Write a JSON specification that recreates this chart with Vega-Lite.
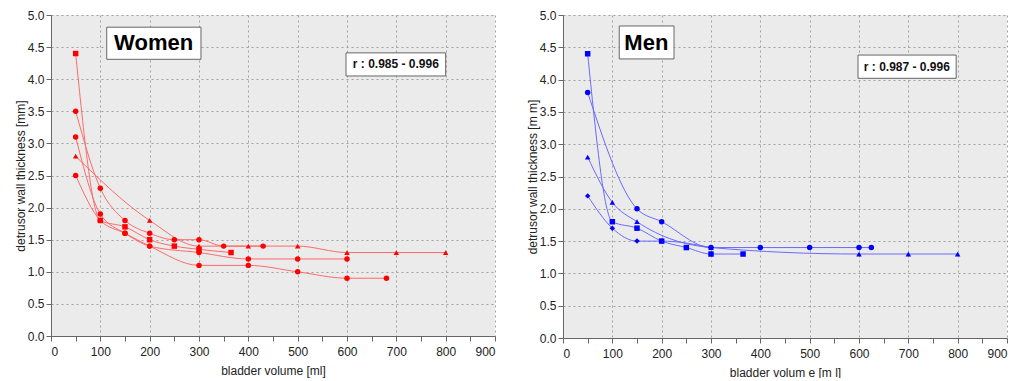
{
  "$schema": "https://vega.github.io/schema/vega-lite/v6.json",
  "padding": {"left": 14, "top": 9, "right": 5, "bottom": 0},
  "background": "white",
  "spacing": 30,
  "resolve": {"scale": {"shape": "independent"}},
  "config": {
    "font": "Liberation Sans",
    "view": {"stroke": null, "fill": "#ebebeb"},
    "axis": {
      "labelFont": "Liberation Sans", "labelFontSize": 12, "labelColor": "#222",
      "titleFont": "Liberation Sans", "titleFontSize": 12, "titleFontWeight": "normal", "titleColor": "#222",
      "domainColor": "#666", "tickColor": "#666", "gridColor": "#a0a0a0", "gridDash": [2, 3],
      "tickSize": 5, "labelOverlap": false
    },
    "axisX": {"labelPadding": 5, "titlePadding": 8},
    "axisY": {"labelPadding": 2, "titlePadding": 0}
  },
  "datasets": {
    "women": [
      {"series": "W1", "x": 50, "y": 4.4}, {"series": "W1", "x": 100, "y": 1.8}, {"series": "W1", "x": 150, "y": 1.7}, {"series": "W1", "x": 200, "y": 1.5}, {"series": "W1", "x": 250, "y": 1.4}, {"series": "W1", "x": 300, "y": 1.35}, {"series": "W1", "x": 365, "y": 1.3},
      {"series": "W2", "x": 50, "y": 3.5}, {"series": "W2", "x": 100, "y": 2.3}, {"series": "W2", "x": 150, "y": 1.8}, {"series": "W2", "x": 200, "y": 1.6}, {"series": "W2", "x": 250, "y": 1.5}, {"series": "W2", "x": 300, "y": 1.5}, {"series": "W2", "x": 350, "y": 1.4}, {"series": "W2", "x": 430, "y": 1.4},
      {"series": "W3", "x": 50, "y": 3.1}, {"series": "W3", "x": 100, "y": 1.9}, {"series": "W3", "x": 150, "y": 1.6}, {"series": "W3", "x": 200, "y": 1.4}, {"series": "W3", "x": 300, "y": 1.3}, {"series": "W3", "x": 400, "y": 1.2}, {"series": "W3", "x": 500, "y": 1.2}, {"series": "W3", "x": 600, "y": 1.2},
      {"series": "W4", "x": 50, "y": 2.8}, {"series": "W4", "x": 200, "y": 1.8}, {"series": "W4", "x": 300, "y": 1.4}, {"series": "W4", "x": 400, "y": 1.4}, {"series": "W4", "x": 500, "y": 1.4}, {"series": "W4", "x": 600, "y": 1.3}, {"series": "W4", "x": 700, "y": 1.3}, {"series": "W4", "x": 800, "y": 1.3},
      {"series": "W5", "x": 50, "y": 2.5}, {"series": "W5", "x": 100, "y": 1.8}, {"series": "W5", "x": 150, "y": 1.6}, {"series": "W5", "x": 200, "y": 1.4}, {"series": "W5", "x": 300, "y": 1.1}, {"series": "W5", "x": 400, "y": 1.1}, {"series": "W5", "x": 500, "y": 1.0}, {"series": "W5", "x": 600, "y": 0.9}, {"series": "W5", "x": 680, "y": 0.9}
    ],
    "men": [
      {"series": "M1", "x": 50, "y": 4.4}, {"series": "M1", "x": 100, "y": 1.8}, {"series": "M1", "x": 150, "y": 1.7}, {"series": "M1", "x": 200, "y": 1.5}, {"series": "M1", "x": 250, "y": 1.4}, {"series": "M1", "x": 300, "y": 1.3}, {"series": "M1", "x": 365, "y": 1.3},
      {"series": "M2", "x": 50, "y": 3.8}, {"series": "M2", "x": 150, "y": 2.0}, {"series": "M2", "x": 200, "y": 1.8}, {"series": "M2", "x": 300, "y": 1.4}, {"series": "M2", "x": 400, "y": 1.4}, {"series": "M2", "x": 500, "y": 1.4}, {"series": "M2", "x": 600, "y": 1.4}, {"series": "M2", "x": 625, "y": 1.4},
      {"series": "M3", "x": 50, "y": 2.8}, {"series": "M3", "x": 100, "y": 2.1}, {"series": "M3", "x": 150, "y": 1.8}, {"series": "M3", "x": 300, "y": 1.4}, {"series": "M3", "x": 600, "y": 1.3}, {"series": "M3", "x": 700, "y": 1.3}, {"series": "M3", "x": 800, "y": 1.3},
      {"series": "M4", "x": 50, "y": 2.2}, {"series": "M4", "x": 100, "y": 1.7}, {"series": "M4", "x": 150, "y": 1.5}, {"series": "M4", "x": 200, "y": 1.5}, {"series": "M4", "x": 300, "y": 1.4}
    ]
  },
  "hconcat": [
    {
      "width": 444, "height": 321,
      "layer": [
        {"data": {"name": "women"},
          "mark": {"type": "line", "interpolate": "monotone", "color": "#ff6a6a", "strokeWidth": 1},
          "encoding": {
            "x": {"field": "x", "type": "quantitative", "scale": {"domain": [0, 900], "nice": false},
              "axis": {"values": [0,50,100,150,200,250,300,350,400,450,500,550,600,650,700,750,800,850,900],
                "labelExpr": "datum.value % 100 === 0 ? datum.label : ''",
                "gridOpacity": {"condition": {"test": "datum.value % 100 === 0", "value": 1}, "value": 0},
                "title": "bladder volume [ml]"}},
            "y": {"field": "y", "type": "quantitative", "scale": {"domain": [0, 5], "nice": false},
              "axis": {"values": [0,0.5,1,1.5,2,2.5,3,3.5,4,4.5,5], "format": ".1f", "title": "detrusor wall thickness [mm]"}},
            "detail": {"field": "series"}}},
        {"data": {"name": "women"},
          "mark": {"type": "point", "filled": true, "color": "#ff0000", "opacity": 1, "size": 30},
          "encoding": {
            "x": {"field": "x", "type": "quantitative",
              "axis": {"values": [0,50,100,150,200,250,300,350,400,450,500,550,600,650,700,750,800,850,900],
                "labelExpr": "datum.value % 100 === 0 ? datum.label : ''",
                "gridOpacity": {"condition": {"test": "datum.value % 100 === 0", "value": 1}, "value": 0},
                "title": "bladder volume [ml]"}},
            "y": {"field": "y", "type": "quantitative",
              "axis": {"values": [0,0.5,1,1.5,2,2.5,3,3.5,4,4.5,5], "format": ".1f", "title": "detrusor wall thickness [mm]"}},
            "shape": {"field": "series", "scale": {"domain": ["W1","W2","W3","W4","W5"], "range": ["square","circle","circle","triangle-up","circle"]}, "legend": null}}},
        {"data": {"values": [{}]}, "mark": {"type": "rect", "fill": "white", "stroke": "#666", "strokeWidth": 1},
          "encoding": {
            "x": {"datum": 113, "axis": {"values": [0,50,100,150,200,250,300,350,400,450,500,550,600,650,700,750,800,850,900],
                "labelExpr": "datum.value % 100 === 0 ? datum.label : ''",
                "gridOpacity": {"condition": {"test": "datum.value % 100 === 0", "value": 1}, "value": 0},
                "title": "bladder volume [ml]"}},
            "x2": {"datum": 304},
            "y": {"datum": 4.81, "axis": {"values": [0,0.5,1,1.5,2,2.5,3,3.5,4,4.5,5], "format": ".1f", "title": "detrusor wall thickness [mm]"}},
            "y2": {"datum": 4.31}}},
        {"data": {"values": [{}]}, "mark": {"type": "text", "text": "Women", "font": "Liberation Sans", "fontWeight": "bold", "fontSize": 22, "color": "black", "align": "center", "baseline": "middle"},
          "encoding": {
            "x": {"datum": 208, "axis": {"values": [0,50,100,150,200,250,300,350,400,450,500,550,600,650,700,750,800,850,900],
                "labelExpr": "datum.value % 100 === 0 ? datum.label : ''",
                "gridOpacity": {"condition": {"test": "datum.value % 100 === 0", "value": 1}, "value": 0},
                "title": "bladder volume [ml]"}},
            "y": {"datum": 4.56, "axis": {"values": [0,0.5,1,1.5,2,2.5,3,3.5,4,4.5,5], "format": ".1f", "title": "detrusor wall thickness [mm]"}}}},
        {"data": {"values": [{}]}, "mark": {"type": "rect", "fill": "white", "stroke": "#666", "strokeWidth": 1},
          "encoding": {
            "x": {"datum": 598, "axis": {"values": [0,50,100,150,200,250,300,350,400,450,500,550,600,650,700,750,800,850,900],
                "labelExpr": "datum.value % 100 === 0 ? datum.label : ''",
                "gridOpacity": {"condition": {"test": "datum.value % 100 === 0", "value": 1}, "value": 0},
                "title": "bladder volume [ml]"}},
            "x2": {"datum": 800},
            "y": {"datum": 4.41, "axis": {"values": [0,0.5,1,1.5,2,2.5,3,3.5,4,4.5,5], "format": ".1f", "title": "detrusor wall thickness [mm]"}},
            "y2": {"datum": 4.05}}},
        {"data": {"values": [{}]}, "mark": {"type": "text", "text": "r : 0.985 - 0.996", "font": "Liberation Sans", "fontWeight": "bold", "fontSize": 12, "color": "#111", "align": "center", "baseline": "middle"},
          "encoding": {
            "x": {"datum": 699, "axis": {"values": [0,50,100,150,200,250,300,350,400,450,500,550,600,650,700,750,800,850,900],
                "labelExpr": "datum.value % 100 === 0 ? datum.label : ''",
                "gridOpacity": {"condition": {"test": "datum.value % 100 === 0", "value": 1}, "value": 0},
                "title": "bladder volume [ml]"}},
            "y": {"datum": 4.23, "axis": {"values": [0,0.5,1,1.5,2,2.5,3,3.5,4,4.5,5], "format": ".1f", "title": "detrusor wall thickness [mm]"}}}}
      ]
    },
    {
      "width": 444, "height": 323,
      "layer": [
        {"data": {"name": "men"},
          "mark": {"type": "line", "interpolate": "monotone", "color": "#6a6aff", "strokeWidth": 1},
          "encoding": {
            "x": {"field": "x", "type": "quantitative", "scale": {"domain": [0, 900], "nice": false},
              "axis": {"values": [0,50,100,150,200,250,300,350,400,450,500,550,600,650,700,750,800,850,900],
                "labelExpr": "datum.value % 100 === 0 ? datum.label : ''",
                "gridOpacity": {"condition": {"test": "datum.value % 100 === 0", "value": 1}, "value": 0},
                "title": "bladder volum e [m l]"}},
            "y": {"field": "y", "type": "quantitative", "scale": {"domain": [0, 5], "nice": false},
              "axis": {"values": [0,0.5,1,1.5,2,2.5,3,3.5,4,4.5,5], "format": ".1f", "title": "detrusor wall thickness [m m]"}},
            "detail": {"field": "series"}}},
        {"data": {"name": "men"},
          "mark": {"type": "point", "filled": true, "color": "#0000ff", "opacity": 1, "size": 30},
          "encoding": {
            "x": {"field": "x", "type": "quantitative",
              "axis": {"values": [0,50,100,150,200,250,300,350,400,450,500,550,600,650,700,750,800,850,900],
                "labelExpr": "datum.value % 100 === 0 ? datum.label : ''",
                "gridOpacity": {"condition": {"test": "datum.value % 100 === 0", "value": 1}, "value": 0},
                "title": "bladder volum e [m l]"}},
            "y": {"field": "y", "type": "quantitative",
              "axis": {"values": [0,0.5,1,1.5,2,2.5,3,3.5,4,4.5,5], "format": ".1f", "title": "detrusor wall thickness [m m]"}},
            "shape": {"field": "series", "scale": {"domain": ["M1","M2","M3","M4"], "range": ["square","circle","triangle-up","diamond"]}, "legend": null}}},
        {"data": {"values": [{}]}, "mark": {"type": "rect", "fill": "white", "stroke": "#666", "strokeWidth": 1},
          "encoding": {
            "x": {"datum": 114, "axis": {"values": [0,50,100,150,200,250,300,350,400,450,500,550,600,650,700,750,800,850,900],
                "labelExpr": "datum.value % 100 === 0 ? datum.label : ''",
                "gridOpacity": {"condition": {"test": "datum.value % 100 === 0", "value": 1}, "value": 0},
                "title": "bladder volum e [m l]"}},
            "x2": {"datum": 225},
            "y": {"datum": 4.83, "axis": {"values": [0,0.5,1,1.5,2,2.5,3,3.5,4,4.5,5], "format": ".1f", "title": "detrusor wall thickness [m m]"}},
            "y2": {"datum": 4.32}}},
        {"data": {"values": [{}]}, "mark": {"type": "text", "text": "Men", "font": "Liberation Sans", "fontWeight": "bold", "fontSize": 22, "color": "black", "align": "center", "baseline": "middle"},
          "encoding": {
            "x": {"datum": 169, "axis": {"values": [0,50,100,150,200,250,300,350,400,450,500,550,600,650,700,750,800,850,900],
                "labelExpr": "datum.value % 100 === 0 ? datum.label : ''",
                "gridOpacity": {"condition": {"test": "datum.value % 100 === 0", "value": 1}, "value": 0},
                "title": "bladder volum e [m l]"}},
            "y": {"datum": 4.57, "axis": {"values": [0,0.5,1,1.5,2,2.5,3,3.5,4,4.5,5], "format": ".1f", "title": "detrusor wall thickness [m m]"}}}},
        {"data": {"values": [{}]}, "mark": {"type": "rect", "fill": "white", "stroke": "#666", "strokeWidth": 1},
          "encoding": {
            "x": {"datum": 598, "axis": {"values": [0,50,100,150,200,250,300,350,400,450,500,550,600,650,700,750,800,850,900],
                "labelExpr": "datum.value % 100 === 0 ? datum.label : ''",
                "gridOpacity": {"condition": {"test": "datum.value % 100 === 0", "value": 1}, "value": 0},
                "title": "bladder volum e [m l]"}},
            "x2": {"datum": 797},
            "y": {"datum": 4.38, "axis": {"values": [0,0.5,1,1.5,2,2.5,3,3.5,4,4.5,5], "format": ".1f", "title": "detrusor wall thickness [m m]"}},
            "y2": {"datum": 4.02}}},
        {"data": {"values": [{}]}, "mark": {"type": "text", "text": "r : 0.987 - 0.996", "font": "Liberation Sans", "fontWeight": "bold", "fontSize": 12, "color": "#111", "align": "center", "baseline": "middle"},
          "encoding": {
            "x": {"datum": 697, "axis": {"values": [0,50,100,150,200,250,300,350,400,450,500,550,600,650,700,750,800,850,900],
                "labelExpr": "datum.value % 100 === 0 ? datum.label : ''",
                "gridOpacity": {"condition": {"test": "datum.value % 100 === 0", "value": 1}, "value": 0},
                "title": "bladder volum e [m l]"}},
            "y": {"datum": 4.2, "axis": {"values": [0,0.5,1,1.5,2,2.5,3,3.5,4,4.5,5], "format": ".1f", "title": "detrusor wall thickness [m m]"}}}}
      ]
    }
  ]
}
